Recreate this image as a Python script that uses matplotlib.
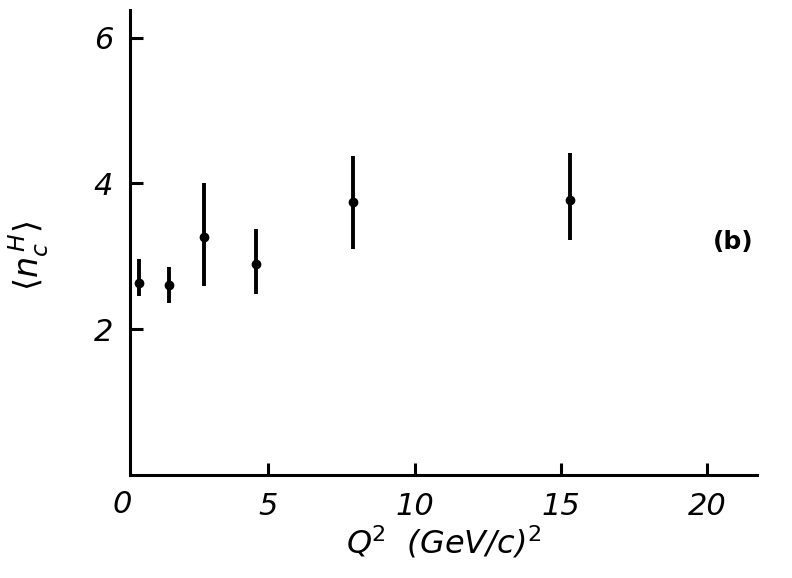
import matplotlib.pyplot as plt

# values
q2 = [0.58, 1.6, 2.8, 4.57, 7.88, 15.3]
nc = [2.63, 2.60, 3.27, 2.89, 3.74, 3.77]
err_lo = [0.18, 0.24, 0.68, 0.40, 0.64, 0.55]
err_hi = [0.34, 0.26, 0.74, 0.49, 0.63, 0.64]

x_ticks = [5, 10, 15, 20]
y_ticks = [2, 4, 6]

fig = plt.figure(figsize=(7.92, 5.78), dpi=100)
ax = fig.add_axes([0.164, 0.178, 0.792, 0.805])

ax.errorbar(q2, nc, yerr=[err_lo, err_hi], fmt="o", color="black",
            ms=6, elinewidth=2.8, capsize=0)

ax.set_xlim(0.27, 21.7)
ax.set_ylim(0, 6.38)

ax.spines["top"].set_visible(False)
ax.spines["right"].set_visible(False)
ax.spines["left"].set_linewidth(2.2)
ax.spines["bottom"].set_linewidth(2.2)

ax.set_xticks(x_ticks)
ax.set_yticks(y_ticks)
ax.tick_params(direction="in", length=9, width=2.2, labelsize=22, pad=12)
for lab in ax.get_xticklabels() + ax.get_yticklabels():
    lab.set_fontstyle("italic")

# the "0" label sits left of the drawn y axis
ax.text(0, -0.2, "0", ha="center", va="top", fontsize=22,
        fontstyle="italic", clip_on=False, transform=ax.transData)

ax.set_xlabel(r"Q$^2$  (GeV/c)$^2$", fontsize=23, fontstyle="italic", labelpad=2)
ax.set_ylabel(r"$\langle n_c^{\,H} \rangle$", fontsize=24)
ax.yaxis.set_label_coords(-0.125, 0.47)

ax.text(20.2, 3.1, "(b)", fontsize=18, fontweight="bold")

plt.savefig("out.png", dpi=100)
